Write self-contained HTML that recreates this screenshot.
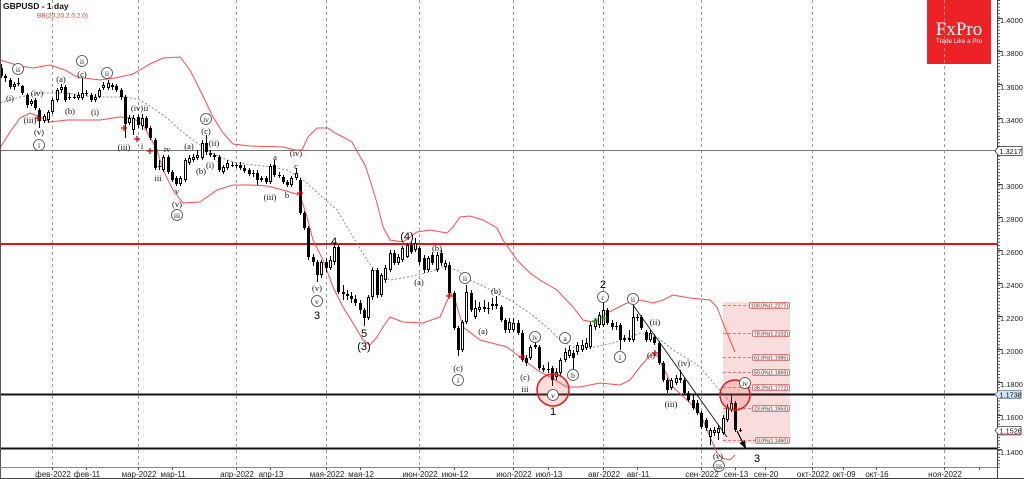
<!DOCTYPE html>
<html><head><meta charset="utf-8">
<style>
html,body{margin:0;padding:0;background:#fff;}
svg{display:block;}
text{font-family:"Liberation Sans","Noto Sans CJK SC",sans-serif;}
.ax{font-size:7.5px;fill:#222;}
.dt{font-size:8px;fill:#222;text-anchor:middle;}
</style></head><body>
<svg id="s" width="1024" height="479" viewBox="0 0 1024 479" xmlns="http://www.w3.org/2000/svg">
<rect x="0" y="0" width="1024" height="479" fill="#fff"/>
<!-- fib zone -->
<rect x="723" y="302" width="67" height="141" fill="#f9dcdc"/>
<g stroke="#e05555" stroke-width="0.8" stroke-dasharray="3,2">
<line x1="723" y1="305.5" x2="749" y2="305.5"/>
<line x1="723" y1="333.5" x2="752" y2="333.5"/>
<line x1="723" y1="357.5" x2="752" y2="357.5"/>
<line x1="723" y1="372.5" x2="752" y2="372.5"/>
<line x1="723" y1="387.5" x2="752" y2="387.5"/>
<line x1="723" y1="408.5" x2="752" y2="408.5"/>
<line x1="723" y1="440.5" x2="755" y2="440.5"/>
</g>
<!-- logo -->
<rect x="927" y="0" width="64" height="64" fill="#ec2227"/>
<text x="959" y="35" text-anchor="middle" style="font-family:'Liberation Serif',serif;font-size:19px;fill:#fff">FxPro</text>
<text x="959" y="43" text-anchor="middle" style="font-size:6.3px;fill:#fff">Trade Like a Pro</text>
<!-- grid -->
<g stroke="#999" stroke-width="1" stroke-dasharray="3,3">
<line x1="52.5" y1="0" x2="52.5" y2="467"/>
<line x1="138.5" y1="0" x2="138.5" y2="467"/>
<line x1="236.5" y1="0" x2="236.5" y2="467"/>
<line x1="326.5" y1="0" x2="326.5" y2="467"/>
<line x1="419.5" y1="0" x2="419.5" y2="467"/>
<line x1="513.5" y1="0" x2="513.5" y2="467"/>
<line x1="603.5" y1="0" x2="603.5" y2="467"/>
<line x1="701.5" y1="0" x2="701.5" y2="467"/>
<line x1="812.5" y1="0" x2="812.5" y2="467"/>
<line x1="944.5" y1="0" x2="944.5" y2="467"/>
</g>
<!-- horizontal levels -->
<line x1="0" y1="150.5" x2="997" y2="150.5" stroke="#777" stroke-width="1"/>
<line x1="0" y1="244" x2="997" y2="244" stroke="#e81010" stroke-width="2"/>
<line x1="0" y1="394.5" x2="997" y2="394.5" stroke="#111" stroke-width="2"/>
<line x1="0" y1="448.5" x2="997" y2="448.5" stroke="#111" stroke-width="2"/>
<!-- bollinger -->
<polyline fill="none" stroke="#ff4a4a" stroke-width="1" points="0,60 20,66 33,68 50,65 65,70 77,77 100,80 115,78 133,74 150,64 163,58 180,57 190,70 200,90 213,117 223,133 233,144 250,146 283,147 295,150 302,150 308,137 317,128 328,128 335,133 343,137 352,142 358,153 365,165 370,180 377,203 383,227 390,240 403,242 417,232 430,230 447,233 453,227 460,217 470,216 483,220 497,228 503,240 510,250 517,260 530,273 540,280 557,290 573,307 583,320 593,322 607,313 627,303 640,300 653,303 663,300 673,295 690,298 710,300 717,307 723,323 730,340 735,352"/>
<polyline fill="none" stroke="#ff4a4a" stroke-width="1" points="0,148 10,132 20,118 30,113 40,117 50,122 67,120 100,120 120,117 133,118 143,125 150,137 157,150 163,170 173,190 183,203 200,202 217,190 233,185 250,185 267,186 283,190 293,193 300,195 307,217 313,240 323,260 333,287 343,307 353,323 363,340 370,345 377,337 383,327 390,317 403,322 423,323 440,317 446,303 451,293 456,303 463,327 480,340 507,347 520,357 537,370 550,377 567,387 580,387 600,383 620,385 630,380 640,367 650,355 657,355 663,367 673,387 687,400 700,413 710,437 717,453 722,458 730,460 735,455"/>
<polyline fill="none" stroke="#7f947f" stroke-width="1" stroke-dasharray="2,2" points="0,103 20,97 40,93 67,93 93,97 127,97 140,100 153,108 167,118 180,130 193,140 207,150 220,157 233,162 253,165 273,167 287,170 300,177 320,195 337,210 353,237 367,260 377,273 390,280 403,278 417,275 430,272 443,267 457,270 470,280 487,288 510,300 530,313 550,330 560,340 573,347 590,348 613,343 630,337 640,333 657,337 673,350 690,360 700,367 715,385 733,405"/>
<!-- trend line -->
<line x1="633" y1="305" x2="727" y2="437" stroke="#222" stroke-width="1"/>
<g id="candles" shape-rendering="crispEdges"></g>
<!-- arrow -->
<line x1="737" y1="431" x2="743" y2="443" stroke="#000" stroke-width="1.2"/>
<polygon points="746,449 739.5,443 745,440.5" fill="#000"/>
<!-- circles -->
<circle cx="553" cy="390" r="16" fill="rgba(255,90,90,0.22)" stroke="#e81818" stroke-width="1.5"/>
<circle cx="735" cy="395" r="15" fill="rgba(255,90,90,0.22)" stroke="#e81818" stroke-width="1.5"/>
<g id="labels"></g>
<!-- fib labels -->
<g style="font-size:5.8px" fill="#444">
<rect x="749.5" y="302.5" width="40" height="6" rx="1.5" fill="#fdecec" stroke="#d85a5a" stroke-width="0.8"/>
<text x="751" y="307.6" textLength="37" lengthAdjust="spacingAndGlyphs">100.0%(1.2277)</text>
<rect x="752.5" y="330.5" width="37" height="6" rx="1.5" fill="#fdecec" stroke="#d85a5a" stroke-width="0.8"/>
<text x="754" y="335.6" textLength="34" lengthAdjust="spacingAndGlyphs">78.6%(1.2102)</text>
<rect x="752.5" y="354.5" width="37" height="6" rx="1.5" fill="#fdecec" stroke="#d85a5a" stroke-width="0.8"/>
<text x="754" y="359.6" textLength="34" lengthAdjust="spacingAndGlyphs">61.8%(1.1985)</text>
<rect x="752.5" y="369.5" width="37" height="6" rx="1.5" fill="#fdecec" stroke="#d85a5a" stroke-width="0.8"/>
<text x="754" y="374.6" textLength="34" lengthAdjust="spacingAndGlyphs">50.0%(1.1869)</text>
<rect x="752.5" y="384.5" width="37" height="6" rx="1.5" fill="#fdecec" stroke="#d85a5a" stroke-width="0.8"/>
<text x="754" y="389.6" textLength="34" lengthAdjust="spacingAndGlyphs">38.2%(1.1772)</text>
<rect x="752.5" y="405.5" width="37" height="6" rx="1.5" fill="#fdecec" stroke="#d85a5a" stroke-width="0.8"/>
<text x="754" y="410.6" textLength="34" lengthAdjust="spacingAndGlyphs">23.6%(1.1653)</text>
<rect x="755.5" y="437.5" width="34" height="6" rx="1.5" fill="#fdecec" stroke="#d85a5a" stroke-width="0.8"/>
<text x="757" y="442.6" textLength="31" lengthAdjust="spacingAndGlyphs">0.0%(1.1460)</text>
</g>
<!-- header -->
<text x="3" y="9" style="font-size:8.5px;font-weight:bold;fill:#111">GBPUSD - 1 day</text>
<text x="37" y="17.5" style="font-size:6.5px;fill:#e33">BB(20,20,2.0,2.0)</text>
<!-- frame / axes -->
<line x1="0.5" y1="0" x2="0.5" y2="479" stroke="#555"/>
<line x1="997.5" y1="0" x2="997.5" y2="468" stroke="#444"/>
<line x1="999" y1="0" x2="999" y2="468" stroke="#555" stroke-width="2" stroke-dasharray="1,2.31"/>
<line x1="0" y1="467.5" x2="998" y2="467.5" stroke="#888"/>
<line x1="0" y1="478.5" x2="1024" y2="478.5" stroke="#444"/>
<line x1="997.5" y1="467" x2="997.5" y2="479" stroke="#444"/>
<g stroke="#444">
<line x1="997" y1="18.5" x2="1002" y2="18.5"/><line x1="997" y1="51.5" x2="1002" y2="51.5"/>
<line x1="997" y1="84.5" x2="1002" y2="84.5"/><line x1="997" y1="118.5" x2="1002" y2="118.5"/>
<line x1="997" y1="184.5" x2="1002" y2="184.5"/><line x1="997" y1="217.5" x2="1002" y2="217.5"/>
<line x1="997" y1="250.5" x2="1002" y2="250.5"/><line x1="997" y1="283.5" x2="1002" y2="283.5"/>
<line x1="997" y1="316.5" x2="1002" y2="316.5"/><line x1="997" y1="349.5" x2="1002" y2="349.5"/>
<line x1="997" y1="382.5" x2="1002" y2="382.5"/><line x1="997" y1="415.5" x2="1002" y2="415.5"/>
<line x1="997" y1="449.5" x2="1002" y2="449.5"/>
</g>
<g class="ax">
<text x="1000" y="23">1.4000</text><text x="1000" y="56">1.3800</text>
<text x="1000" y="90">1.3600</text><text x="1000" y="123">1.3400</text>
<text x="1000" y="189">1.3000</text><text x="1000" y="222">1.2800</text>
<text x="1000" y="255">1.2600</text><text x="1000" y="288">1.2400</text>
<text x="1000" y="321">1.2200</text><text x="1000" y="354">1.2000</text>
<text x="1000" y="387">1.1800</text><text x="1000" y="420">1.1600</text>
<text x="1000" y="455">1.1400</text>
</g>
<polygon points="995,151 998.5,146.5 1022,146.5 1022,155.5 998.5,155.5" fill="#fff" stroke="#333" stroke-width="0.8"/>
<text x="999.5" y="153.8" style="font-size:7.3px;fill:#111">1.3217</text>
<polygon points="995,394.5 998.5,390.5 1021,390.5 1021,398.5 998.5,398.5" fill="#cfe3f0" stroke="#5d7f95" stroke-width="0.8"/>
<text x="999.5" y="397.3" style="font-size:7.3px;fill:#111">1.1738</text>
<polygon points="995,430.5 998.5,426.5 1021,426.5 1021,434.5 998.5,434.5" fill="#fff" stroke="#444" stroke-width="0.8"/>
<line x1="998" y1="435" x2="1021" y2="435" stroke="#d44" stroke-width="0.8"/>
<text x="999.5" y="433.3" style="font-size:7.3px;fill:#111">1.1526</text>
<g stroke="#555">
<line x1="52.5" y1="467" x2="52.5" y2="470"/><line x1="86.5" y1="467" x2="86.5" y2="470"/>
<line x1="138.5" y1="467" x2="138.5" y2="470"/><line x1="172.5" y1="467" x2="172.5" y2="470"/>
<line x1="236.5" y1="467" x2="236.5" y2="470"/><line x1="270.5" y1="467" x2="270.5" y2="470"/>
<line x1="326.5" y1="467" x2="326.5" y2="470"/><line x1="360.5" y1="467" x2="360.5" y2="470"/>
<line x1="419.5" y1="467" x2="419.5" y2="470"/><line x1="454.5" y1="467" x2="454.5" y2="470"/>
<line x1="513.5" y1="467" x2="513.5" y2="470"/><line x1="548.5" y1="467" x2="548.5" y2="470"/>
<line x1="603.5" y1="467" x2="603.5" y2="470"/><line x1="637.5" y1="467" x2="637.5" y2="470"/>
<line x1="701.5" y1="467" x2="701.5" y2="470"/><line x1="735.5" y1="467" x2="735.5" y2="470"/>
<line x1="765.5" y1="467" x2="765.5" y2="470"/><line x1="812.5" y1="467" x2="812.5" y2="470"/>
<line x1="843.5" y1="467" x2="843.5" y2="470"/><line x1="876.5" y1="467" x2="876.5" y2="470"/>
<line x1="944.5" y1="467" x2="944.5" y2="470"/><line x1="979.5" y1="467" x2="979.5" y2="470"/>
</g>
<g class="dt">
<text x="53" y="477">фев-2022</text><text x="87" y="477">фев-11</text>
<text x="139" y="477">мар-2022</text><text x="173" y="477">мар-11</text>
<text x="237" y="477">апр-2022</text><text x="271" y="477">апр-13</text>
<text x="327" y="477">мая-2022</text><text x="361" y="477">мая-12</text>
<text x="420" y="477">июн-2022</text><text x="455" y="477">июн-12</text>
<text x="514" y="477">июл-2022</text><text x="549" y="477">июл-13</text>
<text x="604" y="477">авг-2022</text><text x="638" y="477">авг-11</text>
<text x="702" y="477">сен-2022</text><text x="736" y="477">сен-13</text>
<text x="766" y="477">сен-20</text><text x="813" y="477">окт-2022</text>
<text x="844" y="477">окт-09</text><text x="877" y="477">окт-16</text>
<text x="945" y="477">ноя-2022</text>
</g>
</svg>
<script>
(function(){
var ns='http://www.w3.org/2000/svg';
function el(t,a,p){var e=document.createElementNS(ns,t);for(var k in a)e.setAttribute(k,a[k]);p.appendChild(e);return e;}
var D=[[68,76,64,78],[76,78,74,82],[80,87,78,89],[87,84,82,90],[84,83,78,86],[86,93,85,95],[95,105,93,108],[104,101,99,106],[100,108,98,110],[110,121,108,128],
[121,116,114,123],[120,112,110,123],[112,100,98,114],[100,90,88,102],[90,87,84,93],[87,100,85,102],[97,97,93,100],[97,97,94,99],[98,95,92,100],[98,93,78,100],
[93,93,90,96],[95,100,93,102],[100,97,94,102],[97,90,88,98],[88,85,82,90],[88,83,80,90],[85,87,83,90],[86,90,84,92],[90,97,88,100],[97,124,95,138],
[123,118,115,125],[130,118,115,135],[117,125,114,128],[126,118,114,130],[118,128,116,130],[128,138,126,140],[140,168,138,170],[166,166,160,170],[170,157,155,172],[157,172,155,174],
[172,180,170,182],[178,184,176,186],[184,178,176,186],[180,160,158,182],[163,158,155,165],[160,157,154,162],[158,155,150,160],[158,143,140,160],[143,152,135,155],[153,155,150,157],
[155,157,153,160],[157,170,155,172],[172,167,165,174],[168,163,160,170],[165,165,162,167],[165,166,163,168],[165,168,162,170],[168,171,165,173],[170,174,168,176],[173,173,170,177],
[173,180,170,185],[180,178,176,182],[178,182,176,184],[182,166,164,184],[165,175,160,177],[175,176,172,178],[177,182,175,184],[182,185,180,187],[185,178,176,187],[178,173,168,180],
[180,213,178,215],[213,228,211,230],[228,257,226,260],[257,262,254,266],[262,275,260,282],[275,262,260,278],[262,268,258,272],[268,260,256,270],[262,247,243,265],[247,292,245,294],
[292,294,285,300],[294,296,290,300],[296,299,292,303],[299,303,295,306],[303,310,300,314],[310,318,308,326],[318,297,295,320],[297,270,268,300],[270,295,268,298],[295,275,273,297],
[280,268,265,283],[270,253,250,272],[253,263,250,265],[263,257,254,265],[260,248,246,262],[257,245,243,258],[245,252,242,254],[250,243,238,252],[248,262,246,265],[258,270,255,273],
[270,258,256,272],[255,263,252,265],[270,255,252,272],[253,263,250,266],[267,263,260,270],[265,293,262,295],[293,328,291,330],[328,350,326,356],[350,322,320,352],[322,292,285,324],
[293,310,290,312],[317,308,300,319],[310,307,302,312],[307,309,300,312],[308,308,302,314],[306,304,298,310],[306,304,296,309],[307,320,305,322],[320,330,318,333],[330,322,318,333],
[330,323,318,332],[323,333,320,335],[333,360,330,362],[358,363,355,366],[358,347,345,360],[347,345,340,349],[347,368,345,370],[368,370,365,372],[370,369,362,373],[368,380,366,386],
[377,372,368,380],[373,360,358,376],[360,352,348,362],[356,350,346,358],[353,358,350,370],[352,345,342,355],[350,345,340,352],[348,343,338,350],[347,325,322,349],[327,320,318,330],
[325,315,312,328],[325,310,303,327],[310,323,308,325],[323,327,320,330],[326,327,322,330],[325,340,323,350],[340,338,335,342],[340,338,330,342],[340,317,305,342],[317,318,314,321],
[317,328,315,330],[332,340,330,342],[340,333,330,342],[337,343,334,345],[343,363,341,365],[363,380,361,382],[380,390,378,393],[388,380,378,390],[383,378,375,385],[380,378,370,383],
[380,393,378,395],[393,400,391,402],[400,408,395,410],[403,413,400,415],[413,427,411,429],[420,428,418,431],[437,430,428,445],[433,430,427,436],[433,428,425,440],[433,418,415,435],
[420,407,404,422],[410,403,395,412],[403,430,401,432],[430,430,428,432]];
var g=document.getElementById('candles');
D.forEach(function(d,j){
 var xi=Math.round(1+j*4.27),cx=xi+0.5,o=d[0],c=d[1];
 var h=Math.min(d[2],o,c),l=Math.max(d[3],o,c);
 el('line',{x1:cx,x2:cx,y1:h,y2:l,stroke:'#000','stroke-width':1},g);
 var top=Math.min(o,c),ht=Math.abs(o-c);
 if(ht<1){el('line',{x1:xi-1,x2:xi+2,y1:top+0.5,y2:top+0.5,stroke:'#000'},g);}
 else if(c<o&&ht>=2){el('rect',{x:xi-0.5,y:top+0.5,width:2,height:ht-1,fill:'#fff',stroke:'#000','stroke-width':1},g);}
 else{el('rect',{x:xi-1,y:top,width:3,height:ht,fill:'#000'},g);}
});
var lg=document.getElementById('labels');
[[38,118],[124,128],[137,139],[150,151],[300,193],[449,296],[522,357],[655,353]].forEach(function(p){
 el('path',{d:'M'+(p[0]-3)+','+p[1]+'h6M'+p[0]+','+(p[1]-3)+'v6',stroke:'#d00','stroke-width':1.3,fill:'none'},lg);
});
[[595,321],[604,318]].forEach(function(p){
 el('path',{d:'M'+(p[0]-3)+','+p[1]+'h6M'+p[0]+','+(p[1]-3)+'v6',stroke:'#2a2','stroke-width':1.3,fill:'none'},lg);
});
var L=[[18,69,'ii','c'],[10,98,'(i)','p'],[37,93,'(iv)','p'],[30,120,'(iii)','p'],[39,132,'(v)','p'],[39,145,'i','c'],
[61,79,'(a)','p'],[70,111,'(b)','p'],[82,61,'ii','c'],[82,74,'(c)','p'],[95,112,'(i)','p'],[107,73,'ii','c'],
[124,147,'(iii)','p'],[137,108,'(iv)','p'],[146,108,'ii','s'],[142,146,'i','s'],[158,178,'iii','s'],[167,149,'iv','s'],
[177,191,'v','s'],[177,204,'(v)','p'],[177,215,'iii','c'],[189,146,'(a)','p'],[201,171,'(b)','p'],[210,165,'(i)','p'],
[206,119,'iv','c'],[206,131,'(c)','p'],[214,143,'(ii)','p'],[275,157,'a','s'],[270,197,'(iii)','p'],[287,195,'b','s'],
[296,166,'c','s'],[296,153,'(iv)','p'],[317,288,'(v)','p'],[317,301,'v','c'],[317,315,'3','b'],[334,241,'4','b'],
[364,333,'5','b'],[364,346,'(3)','b'],[407,236,'(4)','b'],[419,282,'(a)','p'],[437,248,'(b)','p'],[465,278,'ii','c'],
[496,291,'(b)','p'],[483,331,'(a)','p'],[458,368,'(c)','p'],[458,380,'i','c'],[535,337,'iv','c'],[525,377,'(c)','p'],
[525,389,'iii','s'],[565,338,'a','c'],[573,375,'b','c'],[553,395,'v','c'],[553,411,'1','b'],[603,284,'2','b'],
[603,297,'c','c'],[633,299,'ii','c'],[620,357,'i','c'],[655,322,'(ii)','p'],[651,355,'(i)','p'],[671,404,'(iii)','p'],
[684,363,'(iv)','p'],[745,383,'iv','c'],[718,456,'(v)','p'],[719,466,'iii','c'],[757,458,'3','b']];
L.forEach(function(t){
 var x=t[0],y=t[1],s=t[2],k=t[3];
 if(k==='c'){el('circle',{cx:x,cy:y,r:5.5,fill:'#fff',stroke:'#444','stroke-width':0.8},lg);}
 var e;
 if(k==='b'){e=el('text',{x:x,y:y+4,'text-anchor':'middle',style:'font-family:"Liberation Sans",sans-serif;font-size:11px;fill:#000'},lg);}
 else{e=el('text',{x:x,y:y+3,'text-anchor':'middle',style:'font-family:"Liberation Serif",serif;font-size:'+(k==='c'?7.5:8.5)+'px;fill:#111'},lg);}
 e.textContent=s;
});
})();
</script>
</body></html>
